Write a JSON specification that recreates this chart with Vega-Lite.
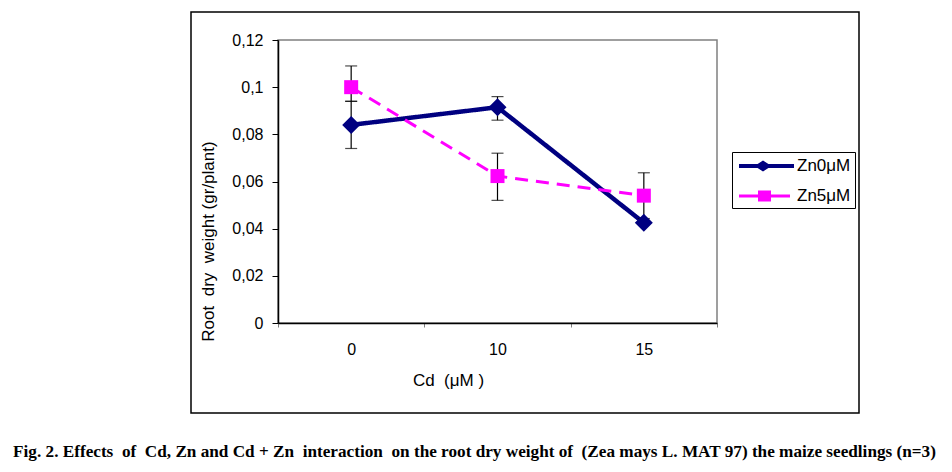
{
  "$schema": "https://vega.github.io/schema/vega-lite/v6.json",
  "width": 439,
  "height": 283,
  "autosize": {"type": "none"},
  "padding": {"left": 278, "top": 40, "right": 235, "bottom": 149},
  "background": "white",
  "title": {
    "text": "Fig. 2. Effects \u00a0of \u00a0Cd, Zn and Cd + Zn \u00a0interaction \u00a0on the root dry weight of \u00a0(Zea mays L. MAT 97) the maize seedlings (n=3)",
    "orient": "bottom",
    "anchor": "middle",
    "font": "Liberation Serif",
    "fontSize": 17.2,
    "fontWeight": "bold",
    "color": "black",
    "dx": -23,
    "offset": 29
  },
  "data": {
    "values": [
      {"series": "Zn0μM", "cd": "0", "mean": 0.084, "lo": 0.074, "hi": 0.094},
      {"series": "Zn0μM", "cd": "10", "mean": 0.0915, "lo": 0.086, "hi": 0.096},
      {"series": "Zn0μM", "cd": "15", "mean": 0.0425, "lo": 0.0425, "hi": 0.0425},
      {"series": "Zn5μM", "cd": "0", "mean": 0.1, "lo": 0.094, "hi": 0.109},
      {"series": "Zn5μM", "cd": "10", "mean": 0.0623, "lo": 0.052, "hi": 0.072},
      {"series": "Zn5μM", "cd": "15", "mean": 0.054, "lo": 0.0443, "hi": 0.0637}
    ]
  },
  "encoding": {
    "x": {
      "field": "cd", "type": "nominal", "sort": ["0", "10", "15"],
      "scale": {"type": "band", "paddingInner": 0, "paddingOuter": 0},
      "axis": {
        "title": "Cd \u00a0(μM )", "labelAngle": 0, "tickBand": "extent",
        "tickColor": "#808080", "tickSize": 4, "labelPadding": 14,
        "titleFontSize": 17,
        "titleX": 170, "titleY": 57, "titleBaseline": "middle", "titleAnchor": null
      }
    }
  },
  "layer": [
    {
      "data": {"values": [{}]},
      "mark": {"type": "rect", "fill": null, "stroke": "black", "strokeWidth": 1.5, "clip": false},
      "encoding": {
        "x": {"value": -87}, "x2": {"value": 581},
        "y": {"value": -28}, "y2": {"value": 373}
      }
    },
    {
      "mark": {"type": "line", "clip": false},
      "encoding": {
        "y": {
          "field": "mean", "type": "quantitative",
          "scale": {"domain": [0, 0.12], "nice": false, "zero": true},
          "axis": {
            "title": "Root \u00a0dry \u00a0weight (gr/plant)",
            "titleFontSize": 17,
            "values": [0, 0.02, 0.04, 0.06, 0.08, 0.1, 0.12],
            "labelExpr": "replace(format(datum.value, '~g'), '.', ',')",
            "tickSize": 6, "labelPadding": 9, "tickColor": "black",
            "titleX": -70, "titleY": 201, "titleBaseline": "middle", "titleAlign": "center", "titleAngle": -90
          }
        },
        "color": {
          "field": "series", "type": "nominal",
          "scale": {"domain": ["Zn0μM", "Zn5μM"], "range": ["#000080", "#FF00FF"]},
          "legend": null
        },
        "strokeDash": {
          "field": "series", "type": "nominal",
          "scale": {"domain": ["Zn0μM", "Zn5μM"], "range": [[1, 0], [13, 8]]},
          "legend": null
        },
        "strokeWidth": {
          "field": "series", "type": "nominal",
          "scale": {"domain": ["Zn0μM", "Zn5μM"], "range": [4.5, 3]},
          "legend": null
        }
      }
    },
    {
      "mark": {"type": "rule", "color": "black", "strokeWidth": 1.2},
      "encoding": {
        "y": {"field": "lo", "type": "quantitative"},
        "y2": {"field": "hi"}
      }
    },
    {
      "mark": {"type": "tick", "color": "black", "thickness": 1.2, "size": 12},
      "encoding": {"y": {"field": "lo", "type": "quantitative"}}
    },
    {
      "mark": {"type": "tick", "color": "black", "thickness": 1.2, "size": 12},
      "encoding": {"y": {"field": "hi", "type": "quantitative"}}
    },
    {
      "mark": {"type": "point", "filled": true, "opacity": 1, "strokeWidth": 0},
      "encoding": {
        "y": {"field": "mean", "type": "quantitative"},
        "color": {
          "field": "series", "type": "nominal",
          "scale": {"domain": ["Zn0μM", "Zn5μM"], "range": ["#000080", "#FF00FF"]},
          "legend": null
        },
        "shape": {
          "field": "series", "type": "nominal",
          "scale": {"domain": ["Zn0μM", "Zn5μM"], "range": ["diamond", "square"]},
          "legend": null
        },
        "size": {
          "field": "series", "type": "nominal",
          "scale": {"domain": ["Zn0μM", "Zn5μM"], "range": [324, 196]},
          "legend": null
        }
      }
    },
    {
      "transform": [{"filter": "false"}],
      "mark": {"type": "point", "filled": true, "opacity": 1, "strokeWidth": 0},
      "encoding": {
        "y": {"field": "mean", "type": "quantitative"},
        "color": {
          "field": "series", "type": "nominal",
          "scale": {"domain": ["Zn0μM", "Zn5μM"], "range": ["#000080", "#FF00FF"]},
          "legend": {
            "title": null, "orient": "none", "legendX": 454, "legendY": 112,
            "strokeColor": "black", "fillColor": "white", "padding": 4,
            "labelFont": "Liberation Sans", "labelFontSize": 17, "labelColor": "black",
            "symbolSize": 400, "symbolStrokeWidth": 0, "rowPadding": 12,
            "symbolOffset": 22, "labelOffset": 19
          }
        },
        "shape": {
          "field": "series", "type": "nominal",
          "scale": {"domain": ["Zn0μM", "Zn5μM"], "range": [
            "M-2.9,-0.2H2.6V0.2H-2.9Z M-1.35,0L-0.5,-0.55L0.35,0L-0.5,0.55Z",
            "M-2.9,-0.15H2.2V0.15H-2.9Z M-1.0,-0.55H0.3V0.55H-1.0Z"
          ]},
          "legend": {
            "title": null, "orient": "none", "legendX": 454, "legendY": 112,
            "strokeColor": "black", "fillColor": "white", "padding": 4,
            "labelFont": "Liberation Sans", "labelFontSize": 17, "labelColor": "black",
            "symbolSize": 400, "symbolStrokeWidth": 0, "rowPadding": 12,
            "symbolOffset": 22, "labelOffset": 19
          }
        }
      }
    }
  ],
  "resolve": {"scale": {"color": "independent", "shape": "independent", "size": "independent"}},
  "config": {
    "view": {"stroke": "#808080", "strokeWidth": 1.5},
    "axis": {
      "labelFont": "Liberation Sans", "titleFont": "Liberation Sans",
      "labelFontSize": 16, "titleFontSize": 16, "titleFontWeight": "normal",
      "labelColor": "black", "titleColor": "black",
      "grid": false, "domainColor": "black", "domainWidth": 1.5
    }
  }
}
